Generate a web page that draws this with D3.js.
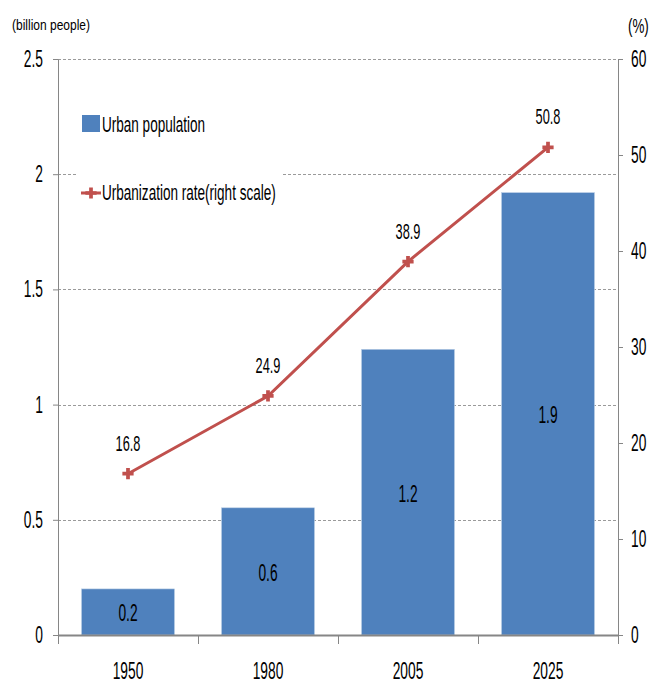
<!DOCTYPE html>
<html>
<head>
<meta charset="utf-8">
<script src="https://cdn.jsdelivr.net/npm/d3@7"></script>
<style>
  html, body { margin: 0; padding: 0; background: #fff; }
  svg { display: block; }
  text { font-family: "Liberation Sans", Arial, sans-serif; fill: #000; }
</style>
</head>
<body>
<svg id="chart" width="653" height="683"></svg>
<script>
// Urban population (billion people) and urbanization rate (%)
const years = ["1950", "1980", "2005", "2025"];
const urbanPopulation = [0.2, 0.552, 1.24, 1.92];
const urbanizationRate = [16.8, 24.9, 38.9, 50.8];
const leftTicks = [0, 0.5, 1, 1.5, 2, 2.5];
const rightTicks = [0, 10, 20, 30, 40, 50, 60];
const seriesNames = ["Urban population", "Urbanization rate(right scale)"];

const svg = d3.select("#chart");
const plot = { left: 58, right: 618, top: 59, bottom: 635 };

const x = d3.scaleBand().domain(years)
  .range([plot.left, plot.right]).paddingInner(0.336).paddingOuter(0.168);
const yL = d3.scaleLinear().domain([0, 2.5]).range([plot.bottom, plot.top]);
const yR = d3.scaleLinear().domain([0, 60]).range([plot.bottom, plot.top]);

const barColor = "#4F81BD";
const lineColor = "#C0504D";
const axisColor = "#868686";

// narrow-looking text: horizontally compressed glyphs
function label(g, px, py, str, size, anchor, sx = 0.6) {
  return g.append("text")
    .attr("transform", `translate(${px},${py}) scale(${sx},1)`)
    .attr("text-anchor", anchor)
    .style("font-size", size + "px")
    .text(str);
}

// dashed horizontal gridlines
svg.append("g").selectAll("line").data(leftTicks.filter(d => d > 0)).join("line")
  .attr("x1", plot.left).attr("x2", plot.right)
  .attr("y1", d => Math.round(yL(d)) + 0.5).attr("y2", d => Math.round(yL(d)) + 0.5)
  .attr("stroke", "#9a9a9a").attr("stroke-width", 1).attr("stroke-dasharray", "3,2");

// bars
svg.append("g").selectAll("rect").data(years).join("rect")
  .attr("x", d => x(d)).attr("width", x.bandwidth())
  .attr("y", (d, i) => yL(urbanPopulation[i]))
  .attr("height", (d, i) => plot.bottom - yL(urbanPopulation[i]))
  .attr("fill", barColor)
  .attr("stroke", "#b9cde5").attr("stroke-width", 0.6);

// axes
const leftAxis = d3.axisLeft(yL).tickValues(leftTicks).tickSize(5).tickSizeOuter(0).tickFormat("");
const rightAxis = d3.axisRight(yR).tickValues(rightTicks).tickSize(5).tickSizeOuter(0).tickFormat("");
const bottomScale = d3.scaleLinear().domain([0, years.length]).range([plot.left, plot.right]);
const bottomAxis = d3.axisBottom(bottomScale).tickValues(d3.range(years.length + 1))
  .tickSize(9).tickSizeOuter(0).tickFormat("");

svg.append("g").attr("transform", `translate(${plot.left},0)`).call(leftAxis);
svg.append("g").attr("transform", `translate(${plot.right},0)`).call(rightAxis);
const bx = svg.append("g").attr("transform", `translate(0,${plot.bottom})`).call(bottomAxis);
bx.select(".domain").attr("stroke-width", 2);
svg.selectAll(".domain, .tick line").attr("stroke", axisColor);

// tick labels
const tickG = svg.append("g");
leftTicks.forEach(t => label(tickG, 43, yL(t) + 8, String(t), 23, "end"));
rightTicks.forEach(t => label(tickG, 631, yR(t) + 8, String(t), 23, "start"));
years.forEach(yr => label(tickG, x(yr) + x.bandwidth() / 2, 679, yr, 23, "middle"));

// unit labels
label(svg, 12, 30, "(billion people)", 15, "start", 0.8);
label(svg, 628, 33, "(%)", 20, "start", 0.67);

// value labels in bars
const fmt = d3.format(".1f");
years.forEach((yr, i) => {
  const mid = (yL(urbanPopulation[i]) + plot.bottom) / 2;
  label(svg, x(yr) + x.bandwidth() / 2, mid + 9.5, fmt(urbanPopulation[i]), 23, "middle");
});

// urbanization rate line
const pts = years.map((yr, i) => [x(yr) + x.bandwidth() / 2, yR(urbanizationRate[i])]);
svg.append("path").datum(pts)
  .attr("d", d3.line())
  .attr("fill", "none").attr("stroke", lineColor).attr("stroke-width", 3);

const marker = d3.symbol().type(d3.symbolCross).size(70);
svg.append("g").selectAll("path").data(pts).join("path")
  .attr("transform", d => `translate(${d[0]},${d[1]})`)
  .attr("d", marker).attr("fill", lineColor);

years.forEach((yr, i) => {
  label(svg, pts[i][0], pts[i][1] - 23, fmt(urbanizationRate[i]), 22, "middle", 0.58);
});

// legend
const lg = svg.append("g");
lg.append("rect").attr("x", 76).attr("y", 99).attr("width", 206).attr("height", 114).attr("fill", "#fff");
lg.append("rect").attr("x", 82).attr("y", 115).attr("width", 18).attr("height", 17).attr("fill", barColor);
label(lg, 102, 132, seriesNames[0], 21.5, "start", 0.63);
lg.append("line").attr("x1", 81).attr("x2", 101).attr("y1", 193).attr("y2", 193)
  .attr("stroke", lineColor).attr("stroke-width", 3);
lg.append("path").attr("transform", "translate(91,193)").attr("d", marker).attr("fill", lineColor);
label(lg, 102, 200, seriesNames[1], 21.5, "start", 0.63);
</script>
</body>
</html>
